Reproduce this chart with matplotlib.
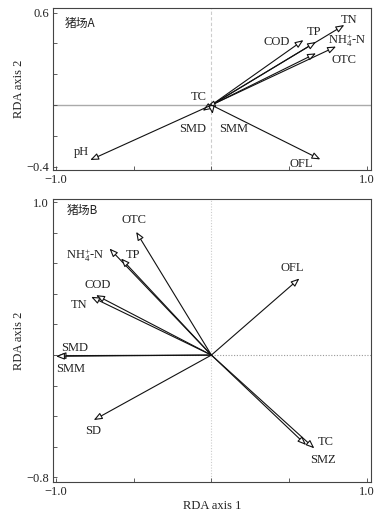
import matplotlib
matplotlib.use("Agg")
import matplotlib.pyplot as plt

plt.rcParams['font.family'] = ['Liberation Serif', 'Noto Sans CJK SC', 'DejaVu Sans']
plt.rcParams['mathtext.fontset'] = 'custom'
plt.rcParams['mathtext.rm'] = 'Liberation Serif'
plt.rcParams['mathtext.default'] = 'rm'

# ---- data: panel A (猪场A) ----
a_vars = ['TN', 'TP', 'COD', r'NH$_4^{+}$-N', 'OTC', 'TC', 'SMD', 'SMM', 'pH', 'OFL']
a_x = [0.855, 0.673, 0.592, 0.802, 0.673, -0.030, -0.056, 0.008, -0.780, 0.701]
a_y = [0.520, 0.410, 0.422, 0.380, 0.336, -0.011, -0.037, -0.058, -0.357, -0.353]

# ---- data: panel B (猪场B) ----
b_vars = ['OTC', r'NH$_4^{+}$-N', 'TP', 'COD', 'TN', 'SMD', 'SMM', 'SD', 'TC', 'SMZ', 'OFL']
b_x = [-0.484, -0.656, -0.581, -0.742, -0.774, -0.990, -1.000, -0.757, 0.609, 0.662, 0.566]
b_y = [0.806, 0.697, 0.632, 0.392, 0.381, -0.004, -0.008, -0.425, -0.588, -0.610, 0.501]

x_ticks = [-1.0, -0.5, 0.0, 0.5, 1.0]
x_ticklabels = ['\u22121.0', '', '', '', '1.0']
a_yticks = [-0.4, -0.2, 0.0, 0.2, 0.4, 0.6]
a_yticklabels = ['\u22120.4', '', '', '', '', '0.6']
b_yticks = [-0.8, -0.6, -0.4, -0.2, 0.0, 0.2, 0.4, 0.6, 0.8, 1.0]
b_yticklabels = ['\u22120.8', '', '', '', '', '', '', '', '', '1.0']

# label offsets (pixels, relative to arrow tip) -- layout only
a_off = [(5, 5), (-2, 10), (-27, -2), (11, 6), (28, -7), (-8, 10), (-10, -18), (21, -15), (-9, 8), (-19, -5)]
b_off = [(-2, 12), (-24, -7), (12, 3), (2, 10), (-12, -8), (17, 8), (15, -13), (-1, -11), (20, 3), (9, -12), (-7, 10)]

fig = plt.figure(figsize=(3.83, 5.2), dpi=100)
axA = fig.add_axes([0.1384, 0.673, 0.830, 0.3115])
axB = fig.add_axes([0.1384, 0.0731, 0.830, 0.544])

FS = 9
spine_c = '#444444'


def style(ax, yt, ytl):
    for s in ax.spines.values():
        s.set_color(spine_c)
        s.set_linewidth(0.8)
    ax.set_xticks(x_ticks)
    ax.set_xticklabels(x_ticklabels)
    ax.set_yticks(yt)
    ax.set_yticklabels(ytl)
    ax.tick_params(direction='in', length=3, width=0.6, color=spine_c,
                   labelsize=FS, pad=3, labelcolor='#222222')
    ax.set_ylabel('RDA axis 2', fontsize=FS, labelpad=1, color='#222222')


def arrows(ax, names, xs, ys, offs):
    px2pt = 0.72
    for n, x, y, (dx, dy) in zip(names, xs, ys, offs):
        ax.annotate('', xy=(x, y), xytext=(0, 0),
                    arrowprops=dict(arrowstyle='-|>,head_length=0.5,head_width=0.2',
                                    mutation_scale=10, fc='white', ec='#111111',
                                    lw=0.8, shrinkA=0, shrinkB=0), zorder=3)
        ax.annotate(n, xy=(x, y), xytext=(dx * px2pt, dy * px2pt),
                    textcoords='offset points', ha='center', va='center',
                    fontsize=FS, color='#222222', zorder=4)


# Panel A
axA.set_xlim(-1.019, 1.026)
axA.set_ylim(-0.422, 0.63)
axA.axhline(0, color='#aaaaaa', lw=1.0, zorder=1)
axA.axvline(0, color='#cccccc', lw=0.8, ls=(0, (3, 2)), zorder=1)
style(axA, a_yticks, a_yticklabels)
arrows(axA, a_vars, a_x, a_y, a_off)
axA.text(0.038, 0.905, '猪场A', transform=axA.transAxes, fontsize=8.5,
         family=['Noto Sans CJK SC', 'Liberation Serif'], va='center', ha='left',
         color='#222222', fontweight='medium')

# Panel B
axB.set_xlim(-1.019, 1.026)
axB.set_ylim(-0.83, 1.02)
axB.axhline(0, color='#999999', lw=0.8, ls=(0, (1, 1.5)), zorder=1)
axB.axvline(0, color='#cccccc', lw=0.8, ls=(0, (1, 1.5)), zorder=1)
style(axB, b_yticks, b_yticklabels)
arrows(axB, b_vars, b_x, b_y, b_off)
axB.set_xlabel('RDA axis 1', fontsize=FS, labelpad=1, color='#222222')
axB.text(0.043, 0.961, '猪场B', transform=axB.transAxes, fontsize=8.5,
         family=['Noto Sans CJK SC', 'Liberation Serif'], va='center', ha='left',
         color='#222222', fontweight='medium')

fig.savefig('out.png', dpi=100)
